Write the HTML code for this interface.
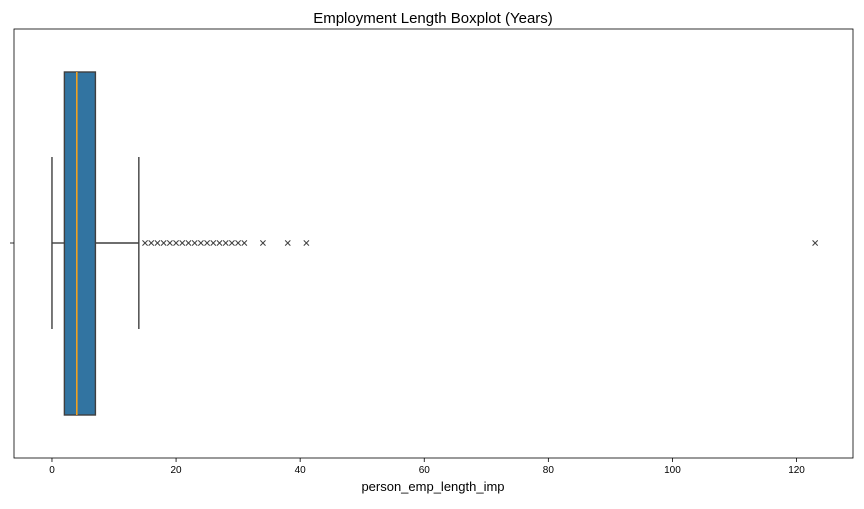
<!DOCTYPE html>
<html><head><meta charset="utf-8"><style>
body{margin:0;background:#fff;width:864px;height:504px;overflow:hidden}
svg text{font-family:"Liberation Sans",sans-serif}
</style></head><body>
<svg id="chart" width="864" height="504">
<rect x="0" y="0" width="864" height="504" fill="#fff"/>
<text x="433" y="23" font-size="15" text-anchor="middle">Employment Length Boxplot (Years)</text>
<g id="marks"></g>
<rect x="14" y="29" width="839" height="429" fill="none" stroke="#000" stroke-width="0.8"/>
<g id="ticks"></g>
<text x="433" y="491" font-size="13" text-anchor="middle">person_emp_length_imp</text>
</svg>
<script>
const stats = [0, 2, 4, 7, 14]; // whisker low, q1, median, q3, whisker high
const outliers = [15,16,17,18,19,20,21,22,23,24,25,26,27,28,29,30,31,34,38,41,123];
const xTicks = [0,20,40,60,80,100,120];
const xMin=-6.12, xMax=129.1, left=14, right=853;
const x = v => left + (v-xMin)/(xMax-xMin)*(right-left);
const ns="http://www.w3.org/2000/svg";
const marks=document.getElementById('marks'), ticks=document.getElementById('ticks');
function mk(tag,attrs,parent){const e=document.createElementNS(ns,tag);for(const k in attrs)e.setAttribute(k,attrs[k]);parent.appendChild(e);return e;}
const yc=243, yTop=72, yBot=415, capTop=157, capBot=329, c="#3f3f3f";
let e;
e=mk('line',{x1:x(stats[0]),x2:x(stats[1]),y1:yc,y2:yc,stroke:c,'stroke-width':1.4},marks);


e=mk('line',{x1:x(stats[3]),x2:x(stats[4]),y1:yc,y2:yc,stroke:c,'stroke-width':1.4},marks);


e=mk('line',{x1:x(stats[0]),x2:x(stats[0]),y1:capTop,y2:capBot,stroke:c,'stroke-width':1.4},marks);


e=mk('line',{x1:x(stats[4]),x2:x(stats[4]),y1:capTop,y2:capBot,stroke:c,'stroke-width':1.4},marks);


e=mk('rect',{x:x(stats[1]),y:yTop,width:x(stats[3])-x(stats[1]),height:yBot-yTop,fill:'#3274a1',stroke:c,'stroke-width':1.4},marks);


e=mk('line',{x1:x(stats[2]),x2:x(stats[2]),y1:yTop,y2:yBot,stroke:'#f0a020','stroke-width':1.6},marks);


outliers.forEach(v=>{const g=mk('g',{},marks);


const px=x(v),s=2.6;
mk('line',{x1:px-s,y1:yc-s,x2:px+s,y2:yc+s,stroke:c,'stroke-width':1},g);
mk('line',{x1:px-s,y1:yc+s,x2:px+s,y2:yc-s,stroke:c,'stroke-width':1},g);});
xTicks.forEach(t=>{const px=x(t);
e=mk('line',{x1:px,x2:px,y1:458,y2:462,stroke:'#000','stroke-width':0.8},ticks);


const tx=mk('text',{x:px,y:473,'font-size':10,'text-anchor':'middle'},ticks);tx.textContent=t;

});
e=mk('line',{x1:10,x2:14,y1:yc,y2:yc,stroke:'#000','stroke-width':0.8},ticks);


</script>
</body></html>
